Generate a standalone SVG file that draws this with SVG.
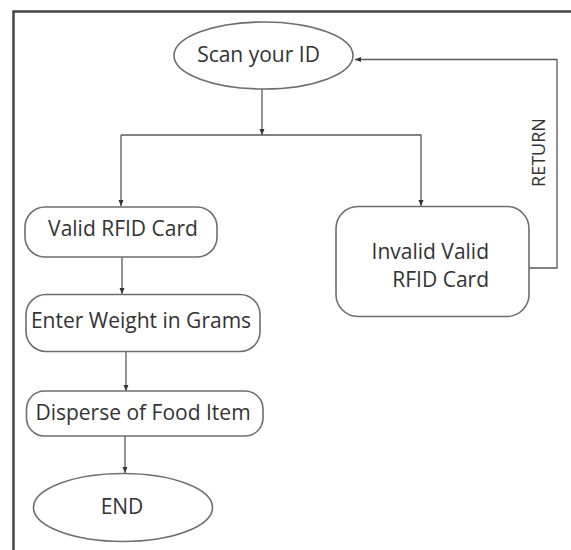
<svg xmlns="http://www.w3.org/2000/svg" width="571" height="550" viewBox="0 0 571 550">
<style>
.node{fill:#fff;stroke:#6e6e6e;stroke-width:1.6}
.lbl{font-family:"Open Sans","Noto Sans",sans-serif;font-size:21px;fill:#333}
.c{text-anchor:middle}
.edge{fill:none;stroke:#5a5a5a;stroke-width:1.3}
</style>
<defs>
<marker id="ah" viewBox="0 0 6 6" refX="6" refY="3" markerWidth="6" markerHeight="6" markerUnits="userSpaceOnUse" orient="auto">
<path d="M0,0.5 L6,3 L0,5.5 Z" fill="#333"/>
</marker>
</defs>
<rect width="571" height="550" fill="#fff"/>
<path d="M13.5,550 V11.5 H571" fill="none" stroke="#444" stroke-width="2.5"/>
<g id="connectors">
<path class="edge" d="M262,89 V135" marker-end="url(#ah)"/>
<path class="edge" d="M121,135 H421 V206" marker-end="url(#ah)"/>
<path class="edge" d="M121,135 V206" marker-end="url(#ah)"/>
<path class="edge" d="M122,257 V294" marker-end="url(#ah)"/>
<path class="edge" d="M126,352 V391" marker-end="url(#ah)"/>
<path class="edge" d="M125,436 V473" marker-end="url(#ah)"/>
<path class="edge" d="M529,268 H557 V59.5 H355" stroke="#777" stroke-width="1.5" marker-end="url(#ah)"/>
<text class="lbl c" transform="translate(545,152.5) rotate(-90)" style="font-size:18px">RETURN</text>
</g>
<g id="scan">
<ellipse class="node" cx="263.5" cy="55.5" rx="89.5" ry="33.5"/>
<text class="lbl c" x="258.5" y="62">Scan your ID</text>
</g>
<g id="valid">
<rect class="node" x="25" y="207" width="192" height="50" rx="20"/>
<text class="lbl c" x="123" y="236">Valid RFID Card</text>
</g>
<g id="invalid">
<rect class="node" x="336" y="206.5" width="193" height="110" rx="22"/>
<text class="lbl" x="489" y="259" text-anchor="end">Invalid Valid</text>
<text class="lbl" x="489" y="287" text-anchor="end">RFID Card</text>
</g>
<g id="weight">
<rect class="node" x="26" y="294.5" width="234" height="57" rx="20"/>
<text class="lbl c" x="141" y="328">Enter Weight in Grams</text>
</g>
<g id="disperse">
<rect class="node" x="26.5" y="391" width="236.5" height="45" rx="18"/>
<text class="lbl c" x="143" y="420">Disperse of Food Item</text>
</g>
<g id="end">
<ellipse class="node" cx="123" cy="507.5" rx="89.5" ry="34"/>
<text class="lbl c" x="122" y="514">END</text>
</g>
</svg>
